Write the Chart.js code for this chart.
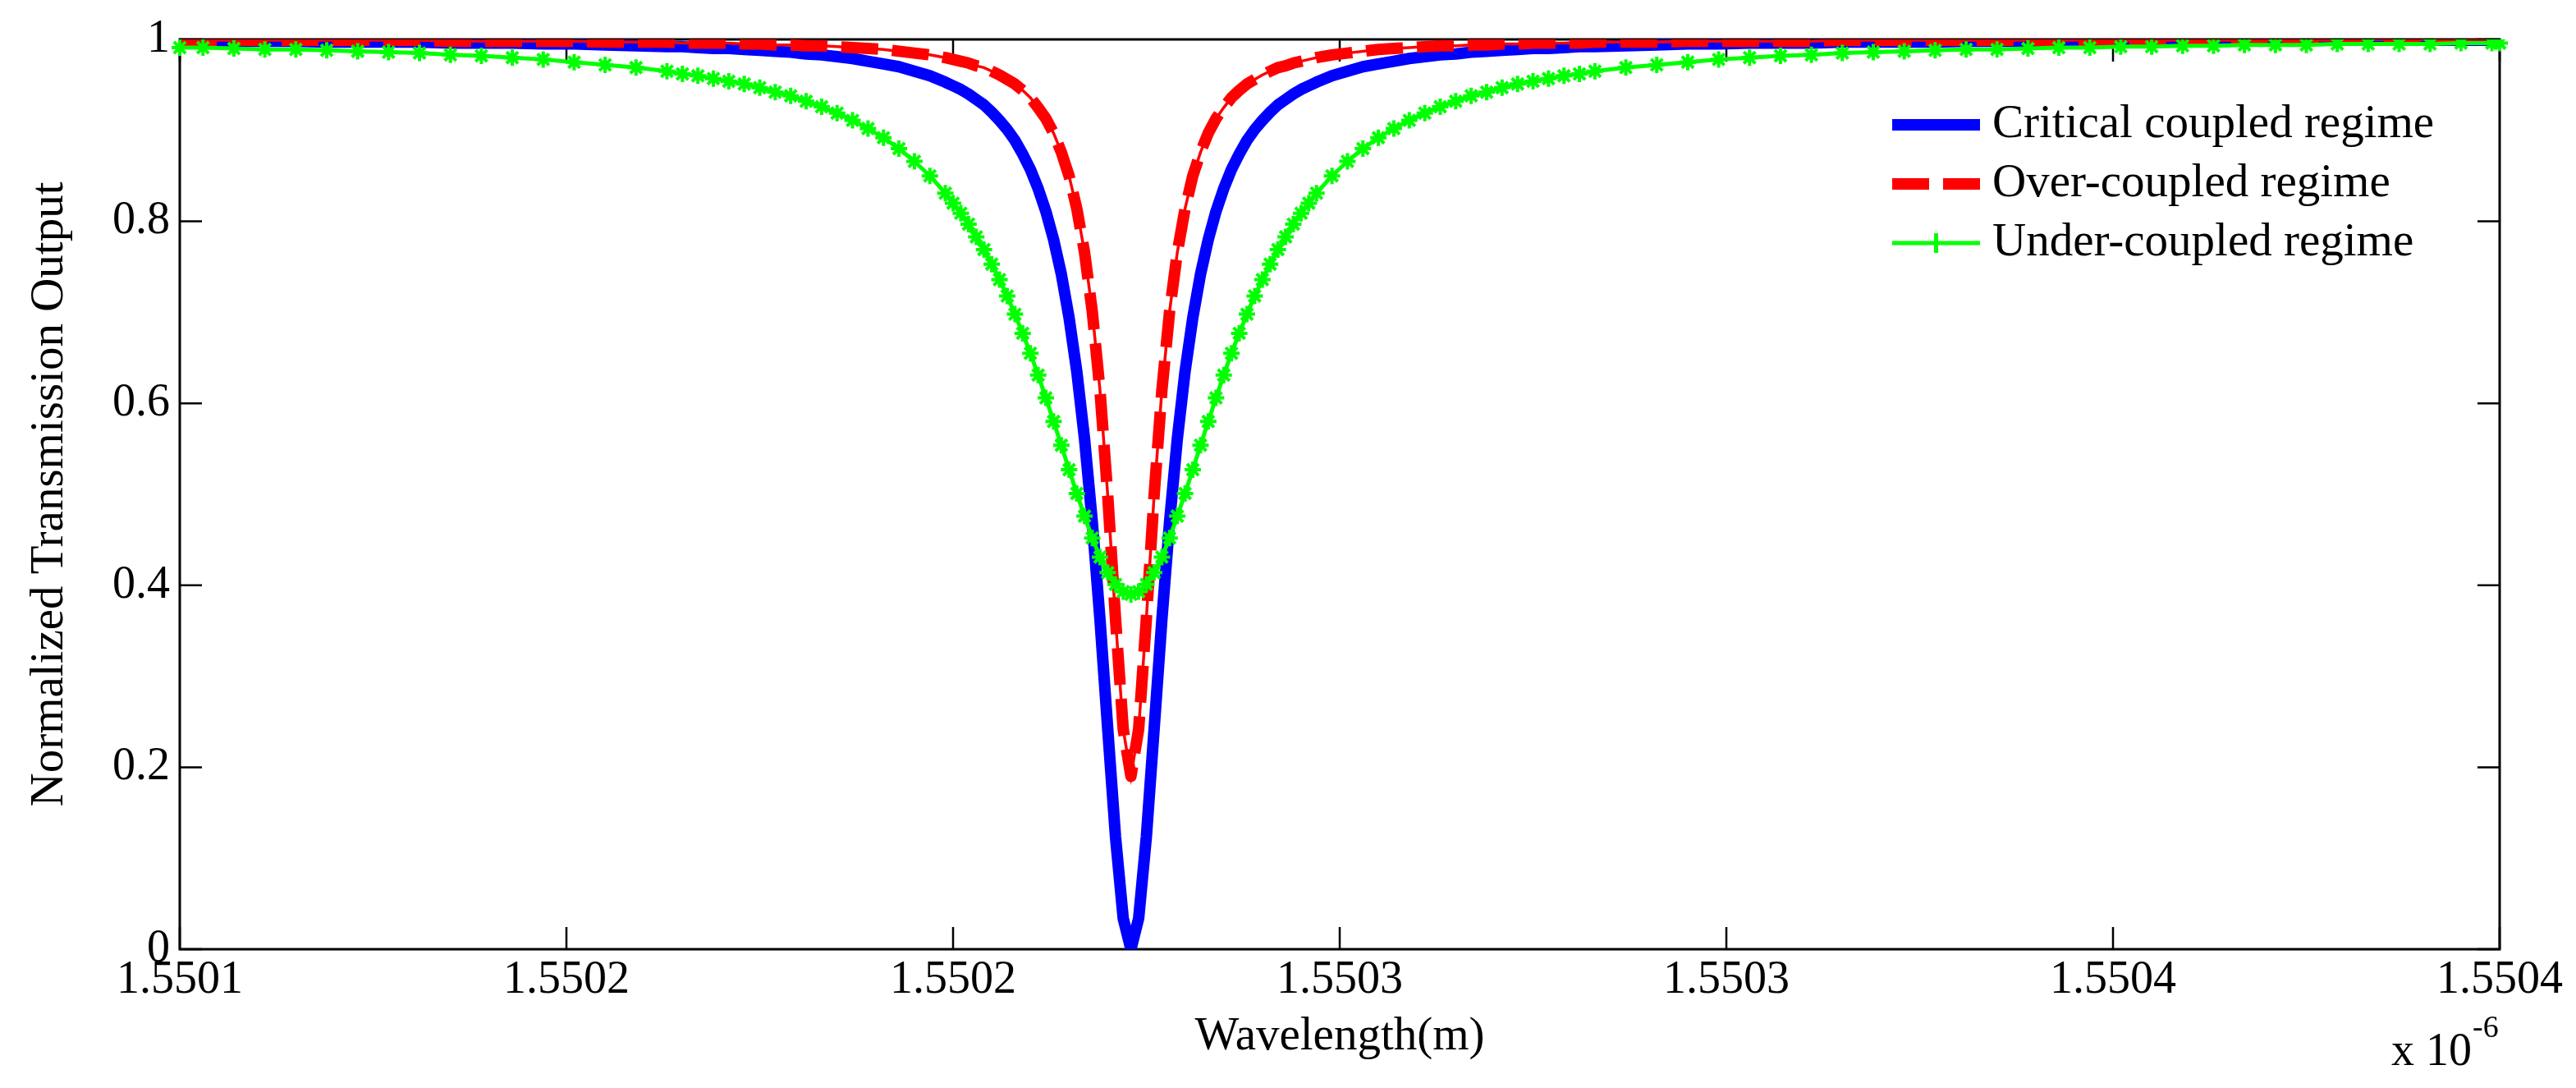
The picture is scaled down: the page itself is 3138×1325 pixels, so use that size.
<!DOCTYPE html>
<html>
<head>
<meta charset="utf-8">
<title>Ring resonator transmission</title>
<script src="https://cdn.jsdelivr.net/npm/chart.js@4.4.0/dist/chart.umd.min.js"></script>
<style>
  html, body { margin: 0; padding: 0; background: #ffffff; }
  #myChart { display: block; width: 3138px; height: 1325px; }
</style>
</head>
<body>
<canvas id="myChart" width="3138" height="1325"></canvas>
<script>
// wavelength in micrometres (the axis carries the "x 10^-6" factor)
var wavelength = [
  1.550100, 1.550103, 1.550107, 1.550111, 1.550115, 1.550119, 1.550123, 1.550127,
  1.550131, 1.550135, 1.550139, 1.550143, 1.550147, 1.550151, 1.550155, 1.550159,
  1.550163, 1.550165, 1.550167, 1.550169, 1.550171, 1.550173, 1.550175, 1.550177,
  1.550179, 1.550181, 1.550183, 1.550185, 1.550187, 1.550189, 1.550191, 1.550193,
  1.550195, 1.550197,
  1.550199, 1.550200, 1.550201, 1.550202, 1.550203, 1.550204, 1.550205, 1.550206,
  1.550207, 1.550208, 1.550209, 1.550210, 1.550211, 1.550212, 1.550213, 1.550214,
  1.550215, 1.550216, 1.550217, 1.550218, 1.550219, 1.550220, 1.550221, 1.550222,
  1.550223,
  1.550224, 1.550225, 1.550226, 1.550227, 1.550228, 1.550229, 1.550230, 1.550231,
  1.550232, 1.550233, 1.550234, 1.550235, 1.550236, 1.550237, 1.550238, 1.550239,
  1.550240, 1.550241, 1.550242, 1.550243, 1.550244, 1.550245, 1.550246, 1.550247,
  1.550249, 1.550251, 1.550253, 1.550255, 1.550257, 1.550259, 1.550261, 1.550263,
  1.550265, 1.550267, 1.550269, 1.550271, 1.550273, 1.550275, 1.550277, 1.550279,
  1.550281, 1.550283,
  1.550287, 1.550291, 1.550295, 1.550299, 1.550303, 1.550307, 1.550311, 1.550315,
  1.550319, 1.550323, 1.550327, 1.550331, 1.550335, 1.550339, 1.550343, 1.550347,
  1.550351, 1.550355, 1.550359, 1.550363, 1.550367, 1.550371, 1.550375, 1.550379,
  1.550383, 1.550387, 1.550391, 1.550395, 1.550399, 1.550400
];

var critical = [
  0.998, 0.998, 0.998, 0.998, 0.998, 0.997, 0.997, 0.997,
  0.997, 0.996, 0.996, 0.996, 0.995, 0.995, 0.994, 0.993,
  0.992, 0.992, 0.991, 0.990, 0.990, 0.989, 0.988, 0.987,
  0.986, 0.984, 0.983, 0.981, 0.979, 0.976, 0.973, 0.970,
  0.965, 0.960,
  0.953, 0.949, 0.945, 0.940, 0.934, 0.928, 0.920, 0.911,
  0.901, 0.889, 0.874, 0.857, 0.836, 0.811, 0.780, 0.742,
  0.694, 0.635, 0.561, 0.470, 0.362, 0.242, 0.124, 0.034,
  0.000,
  0.034, 0.124, 0.242, 0.362, 0.470, 0.561, 0.635, 0.694,
  0.742, 0.780, 0.811, 0.836, 0.857, 0.874, 0.889, 0.901,
  0.911, 0.920, 0.928, 0.934, 0.940, 0.945, 0.949, 0.953,
  0.960, 0.965, 0.970, 0.973, 0.976, 0.979, 0.981, 0.983,
  0.984, 0.986, 0.987, 0.988, 0.989, 0.990, 0.990, 0.991,
  0.992, 0.992,
  0.993, 0.994, 0.995, 0.995, 0.996, 0.996, 0.996, 0.997,
  0.997, 0.997, 0.997, 0.998, 0.998, 0.998, 0.998, 0.998,
  0.998, 0.998, 0.999, 0.999, 0.999, 0.999, 0.999, 0.999,
  0.999, 0.999, 0.999, 0.999, 0.999, 0.999
];

var overCoupled = [
  0.999, 0.999, 0.999, 0.999, 0.999, 0.999, 0.999, 0.999,
  0.999, 0.998, 0.998, 0.998, 0.998, 0.998, 0.997, 0.997,
  0.997, 0.996, 0.996, 0.996, 0.996, 0.995, 0.995, 0.994,
  0.994, 0.993, 0.993, 0.992, 0.991, 0.990, 0.989, 0.987,
  0.985, 0.983,
  0.980, 0.978, 0.976, 0.974, 0.971, 0.969, 0.965, 0.961,
  0.956, 0.951, 0.944, 0.936, 0.925, 0.913, 0.897, 0.876,
  0.850, 0.814, 0.766, 0.701, 0.614, 0.499, 0.364, 0.242,
  0.190,
  0.242, 0.364, 0.499, 0.614, 0.701, 0.766, 0.814, 0.850,
  0.876, 0.897, 0.913, 0.925, 0.936, 0.944, 0.951, 0.956,
  0.961, 0.965, 0.969, 0.971, 0.974, 0.976, 0.978, 0.980,
  0.983, 0.985, 0.987, 0.989, 0.990, 0.991, 0.992, 0.993,
  0.993, 0.994, 0.994, 0.995, 0.995, 0.996, 0.996, 0.996,
  0.996, 0.997,
  0.997, 0.997, 0.998, 0.998, 0.998, 0.998, 0.998, 0.999,
  0.999, 0.999, 0.999, 0.999, 0.999, 0.999, 0.999, 0.999,
  0.999, 0.999, 0.999, 0.999, 0.999, 0.999, 0.999, 0.999,
  1.000, 1.000, 1.000, 1.000, 1.000, 1.000
];

var underCoupled = [
  0.991, 0.991, 0.990, 0.989, 0.989, 0.988, 0.987, 0.986,
  0.985, 0.983, 0.982, 0.980, 0.978, 0.975, 0.972, 0.969,
  0.965, 0.962, 0.960, 0.957, 0.954, 0.951, 0.947, 0.942,
  0.938, 0.932, 0.926, 0.919, 0.911, 0.902, 0.892, 0.880,
  0.866, 0.850,
  0.831, 0.820, 0.809, 0.797, 0.783, 0.769, 0.753, 0.736,
  0.718, 0.698, 0.677, 0.655, 0.631, 0.606, 0.580, 0.554,
  0.527, 0.501, 0.476, 0.452, 0.431, 0.414, 0.401, 0.393,
  0.390,
  0.393, 0.401, 0.414, 0.431, 0.452, 0.476, 0.501, 0.527,
  0.554, 0.580, 0.606, 0.631, 0.655, 0.677, 0.698, 0.718,
  0.736, 0.753, 0.769, 0.783, 0.797, 0.809, 0.820, 0.831,
  0.850, 0.866, 0.880, 0.892, 0.902, 0.911, 0.919, 0.926,
  0.932, 0.938, 0.942, 0.947, 0.951, 0.954, 0.957, 0.960,
  0.962, 0.965,
  0.969, 0.972, 0.975, 0.978, 0.980, 0.982, 0.983, 0.985,
  0.986, 0.987, 0.988, 0.989, 0.989, 0.990, 0.991, 0.991,
  0.992, 0.992, 0.993, 0.993, 0.994, 0.994, 0.994, 0.995,
  0.995, 0.995, 0.995, 0.996, 0.996, 0.996
];

var seriesNames = ['Critical coupled regime', 'Over-coupled regime', 'Under-coupled regime'];

var xTickValues = [1.5501, 1.55015, 1.5502, 1.55025, 1.5503, 1.55035, 1.5504];
var xTickLabels = ['1.5501', '1.5502', '1.5502', '1.5503', '1.5503', '1.5504', '1.5504'];
var yTickValues = [0, 0.2, 0.4, 0.6, 0.8, 1];
var yTickLabels = ['0', '0.2', '0.4', '0.6', '0.8', '1'];

function points(values) {
  return wavelength.map(function (w, i) { return { x: w, y: values[i] }; });
}

var serif = "'Liberation Serif', 'Times New Roman', serif";
var clipBox = { left: 12, top: 0, right: 12, bottom: 0 };

// inward ticks, box, legend and the exponent label, MATLAB style
var matlabAxes = {
  id: 'matlabAxes',
  beforeDatasetsDraw: function (chart) {
    var ctx = chart.ctx, a = chart.chartArea;
    var xs = chart.scales.x, ys = chart.scales.y;
    ctx.save();
    ctx.strokeStyle = '#000000';
    ctx.lineWidth = 3;
    ctx.strokeRect(a.left, a.top, a.right - a.left, a.bottom - a.top);
    ctx.lineWidth = 2.5;
    ctx.beginPath();
    xs.ticks.forEach(function (t) {
      var px = xs.getPixelForValue(t.value);
      ctx.moveTo(px, a.bottom); ctx.lineTo(px, a.bottom - 27);
      ctx.moveTo(px, a.top); ctx.lineTo(px, a.top + 27);
    });
    ys.ticks.forEach(function (t) {
      var py = ys.getPixelForValue(t.value);
      ctx.moveTo(a.left, py); ctx.lineTo(a.left + 27, py);
      ctx.moveTo(a.right, py); ctx.lineTo(a.right - 27, py);
    });
    ctx.stroke();
    ctx.restore();
  },
  afterDraw: function (chart) {
    var ctx = chart.ctx;
    ctx.save();
    seriesNames.forEach(function (name, i) {
      var ds = chart.data.datasets.filter(function (d) { return d.label === name; })[0];
      var y = 152 + i * 72;
      var x0 = 2305, x1 = 2412;
      ctx.strokeStyle = ds.borderColor;
      ctx.lineWidth = ds.borderWidth;
      ctx.lineCap = 'butt';
      ctx.setLineDash(ds.borderDash || []);
      ctx.beginPath();
      ctx.moveTo(x0, y); ctx.lineTo(x1, y);
      ctx.stroke();
      ctx.setLineDash([]);
      if (ds.pointRadius) {
        ctx.lineWidth = ds.pointBorderWidth + 1;
        ctx.beginPath();
        ctx.moveTo((x0 + x1) / 2, y - 12); ctx.lineTo((x0 + x1) / 2, y + 12);
        ctx.stroke();
      }
      ctx.fillStyle = '#000000';
      ctx.font = '57px ' + serif;
      ctx.textAlign = 'left';
      ctx.textBaseline = 'middle';
      ctx.fillText(ds.label, 2427, y);
    });

    // axis multiplier
    ctx.fillStyle = '#000000';
    ctx.textBaseline = 'alphabetic';
    ctx.font = '56px ' + serif;
    var base = 'x 10';
    ctx.fillText(base, 2913, 1297);
    var w = ctx.measureText(base).width;
    ctx.font = '38px ' + serif;
    ctx.fillText('-6', 2913 + w + 1, 1263);
    ctx.restore();
  }
};

var ctx = document.getElementById('myChart').getContext('2d');

var myChart = new Chart(ctx, {
  type: 'line',
  data: {
    datasets: [
      {
        label: seriesNames[2],
        data: points(underCoupled),
        borderColor: '#00ff00',
        borderWidth: 5,
        borderJoinStyle: 'round',
        pointStyle: 'star',
        pointRadius: 10,
        pointBorderWidth: 4,
        pointBorderColor: '#00ff00',
        pointBackgroundColor: '#00ff00',
        clip: clipBox,
        order: 0
      },
      {
        label: seriesNames[1],
        data: points(overCoupled),
        borderColor: '#ff0000',
        borderWidth: 14,
        borderDash: [45, 17],
        borderJoinStyle: 'round',
        pointRadius: 0,
        clip: clipBox,
        order: 1
      },
      {
        label: '',
        data: points(overCoupled),
        borderColor: '#ff0000',
        borderWidth: 3.5,
        pointRadius: 0,
        clip: clipBox,
        order: 2
      },
      {
        label: seriesNames[0],
        data: points(critical),
        borderColor: '#0000ff',
        borderWidth: 14,
        borderJoinStyle: 'round',
        pointRadius: 0,
        clip: clipBox,
        order: 3
      }
    ]
  },
  options: {
    responsive: false,
    animation: false,
    devicePixelRatio: 1,
    layout: { padding: { left: 0, right: 93, top: 48, bottom: 0 } },
    plugins: {
      legend: { display: false },
      tooltip: { enabled: false }
    },
    elements: { line: { tension: 0 } },
    scales: {
      x: {
        type: 'linear',
        min: 1.5501,
        max: 1.5504,
        afterBuildTicks: function (s) {
          s.ticks = xTickValues.map(function (v) { return { value: v }; });
        },
        afterFit: function (s) { s.height = 169; },
        grid: { display: false, drawTicks: false },
        border: { display: false },
        ticks: {
          autoSkip: false,
          maxRotation: 0,
          padding: 5,
          color: '#000000',
          font: { family: serif, size: 56 },
          callback: function (v, i) { return xTickLabels[i]; }
        },
        title: {
          display: true,
          text: 'Wavelength(m)',
          color: '#000000',
          font: { family: serif, size: 57 },
          padding: { top: 0, bottom: 28 }
        }
      },
      y: {
        type: 'linear',
        min: 0,
        max: 1,
        afterBuildTicks: function (s) {
          s.ticks = yTickValues.map(function (v) { return { value: v }; });
        },
        afterFit: function (s) { s.width = 219; },
        grid: { display: false, drawTicks: false },
        border: { display: false },
        ticks: {
          autoSkip: false,
          padding: 12,
          color: '#000000',
          font: { family: serif, size: 56 },
          callback: function (v, i) { return yTickLabels[i]; }
        },
        title: {
          display: true,
          text: 'Normalized Transmission Output',
          color: '#000000',
          font: { family: serif, size: 57 },
          padding: { top: 27, bottom: 0 }
        }
      }
    }
  },
  plugins: [matlabAxes]
});
</script>
</body>
</html>
